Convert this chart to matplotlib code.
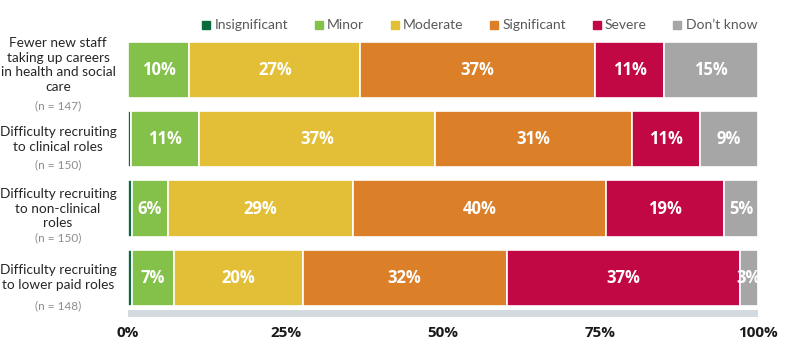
import matplotlib
matplotlib.use("Agg")
import matplotlib.pyplot as plt
from matplotlib.lines import Line2D
import numpy as np

plt.rcParams['font.family'] = ['Lato', 'DejaVu Sans']

categories = [
    "Fewer new staff\ntaking up careers\nin health and social\ncare",
    "Difficulty recruiting\nto clinical roles",
    "Difficulty recruiting\nto non-clinical\nroles",
    "Difficulty recruiting\nto lower paid roles",
]
n_labels = ["(n = 147)", "(n = 150)", "(n = 150)", "(n = 148)"]
series = ["Insignificant", "Minor", "Moderate", "Significant", "Severe", "Don\u2019t know"]
insignificant = [0.0, 0.5, 0.6, 0.6]
minor = [9.7, 10.8, 5.7, 6.7]
moderate = [27.2, 37.4, 29.4, 20.4]
significant = [37.2, 31.3, 40.1, 32.4]
severe = [11.0, 10.8, 18.8, 37.0]
dont_know = [14.9, 9.2, 5.4, 2.9]
xticks = [0, 25, 50, 75, 100]
xtick_labels = ["0%", "25%", "50%", "75%", "100%"]

colors = ["#0b6b3e", "#84c14a", "#e2bf36", "#dc7f29", "#c20844", "#a6a6a6"]
values = [insignificant, minor, moderate, significant, severe, dont_know]

fig = plt.figure(figsize=(8.0, 3.54), dpi=100)
ax = fig.add_axes([0.16, 0.1017, 0.7875, 0.7995])

y = np.arange(len(categories))
left = np.zeros(len(categories))
for s, vals, c in zip(series, values, colors):
    vals = np.array(vals)
    ax.barh(y, vals, left=left, height=0.81, color=c, edgecolor="white",
            linewidth=1.2, label=s)
    if s != "Insignificant":
        for yi, (l, v) in enumerate(zip(left, vals)):
            ax.text(l + v / 2, yi, f"{int(round(v))}%", ha="center", va="center",
                    color="white", fontsize=12, fontweight="bold",
                    family=["Open Sans", "DejaVu Sans"], clip_on=True)
    left += vals

# gray strip under bars
ax.axhspan(3.46, 3.56, xmin=0, xmax=1, color="#d3dbe1", lw=0)

ax.set_xlim(0, 100)
ax.set_ylim(3.58, -0.505)
ax.set_xticks(xticks)
ax.set_xticklabels(xtick_labels, fontsize=11, fontweight="bold", color="#1a1a1a",
                   family=["Open Sans", "DejaVu Sans"])
ax.tick_params(axis="x", length=0, pad=6)
ax.set_yticks([])
for sp in ax.spines.values():
    sp.set_visible(False)

main_offsets = [-0.07, 0.0, 0.0, 0.0]
n_offsets = [0.52, 0.37, 0.42, 0.40]
for yi, (cat, nl) in enumerate(zip(categories, n_labels)):
    ax.text(-11.1, yi + main_offsets[yi], cat, ha="center", va="center", fontsize=9.8,
            color="#262626", linespacing=1.27)
    ax.text(-11.1, yi + n_offsets[yi], nl, ha="center", va="center", fontsize=8.5,
            color="#8c8c8c")

handles = [Line2D([], [], marker="s", linestyle="none", markersize=6,
                  markerfacecolor=c, markeredgecolor=c) for c in colors]
fig.legend(handles, series, loc="center right", bbox_to_anchor=(0.962, 0.928),
           ncol=6, frameon=False, fontsize=10, handletextpad=0.1,
           columnspacing=1.7, labelcolor="#595959", handlelength=1.0)

fig.savefig("out.png", dpi=100)
